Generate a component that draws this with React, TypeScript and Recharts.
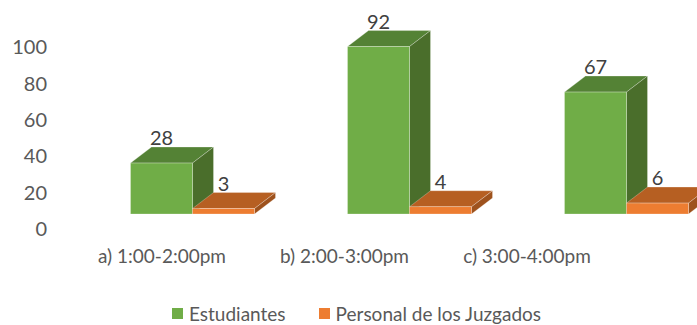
import React from "react";
import { BarChart, Bar, XAxis, YAxis, Legend } from "recharts";

// values
const categories = ["a) 1:00-2:00pm", "b) 2:00-3:00pm", "c) 3:00-4:00pm"];
const estudiantes = [28, 92, 67];
const personal = [3, 4, 6];
const yTicks = [0, 20, 40, 60, 80, 100];

const data = categories.map((name, i) => ({
  name,
  estudiantes: estudiantes[i],
  personal: personal[i],
}));

const FONT = "Lato, 'Open Sans', sans-serif";
const DX = 21; // depth offset of the fake 3D boxes
const DY = 16;
const LIFT = 15; // front face sits above the axis floor

const makeBox = (front: string, top: string, side: string) => (props: any) => {
  const { x, y, width, height, value } = props;
  const fx = x;
  const fy = y - LIFT;
  const fb = y + height - LIFT;
  const w = width;
  return (
    <g>
      <polygon
        points={`${fx},${fy} ${fx + DX},${fy - DY} ${fx + w + DX},${fy - DY} ${fx + w},${fy}`}
        fill={top}
        stroke="#ffffff"
        strokeOpacity={0.35}
        strokeWidth={0.75}
      />
      <polygon
        points={`${fx + w},${fy} ${fx + w + DX},${fy - DY} ${fx + w + DX},${fb - DY} ${fx + w},${fb}`}
        fill={side}
        stroke="#ffffff"
        strokeOpacity={0.35}
        strokeWidth={0.75}
      />
      <rect
        x={fx}
        y={fy}
        width={w}
        height={Math.max(height, 0)}
        fill={front}
        stroke="#ffffff"
        strokeOpacity={0.35}
        strokeWidth={0.75}
      />
      <text
        x={fx + w / 2}
        y={fy - DY - 2}
        textAnchor="middle"
        fontFamily={FONT}
        fontSize={20}
        fill="#404040"
      >
        {value}
      </text>
    </g>
  );
};

const GreenBox = makeBox("#70AD47", "#548235", "#4A6E2B");
const OrangeBox = makeBox("#ED7D31", "#B65F22", "#9E521D");

// category labels sit on the perspective floor, a bit left of the boxes
const CategoryTick = (props: any) => {
  const { x, y, payload } = props;
  return (
    <text
      x={162 + (x - 192) * 0.841}
      y={y + 26}
      textAnchor="middle"
      fontFamily={FONT}
      fontSize={19}
      fill="#595959"
    >
      {payload.value}
    </text>
  );
};

const legendItems = [
  { label: "Estudiantes", color: "#70AD47" },
  { label: "Personal de los Juzgados", color: "#ED7D31" },
];

const renderLegend = () => (
  <div
    style={{
      display: "flex",
      justifyContent: "flex-start",
      alignItems: "center",
      paddingLeft: 172,
      gap: 33,
      fontFamily: FONT,
      fontSize: 19,
      color: "#595959",
    }}
  >
    {legendItems.map((it) => (
      <div key={it.label} style={{ display: "flex", alignItems: "center" }}>
        <span
          style={{
            display: "inline-block",
            width: 11,
            height: 11,
            background: it.color,
            marginRight: 6,
          }}
        />
        {it.label}
      </div>
    ))}
  </div>
);

export default function App() {
  return (
    <div style={{ width: 697, height: 325, overflow: "hidden", position: "relative", background: "#fff" }}>
      <style>{`body{margin:0}`}</style>
      <BarChart
        width={740}
        height={325}
        data={data}
        margin={{ top: 47, right: 5.5, left: 0, bottom: 66 }}
        barGap={0}
        barSize={62}
      >
        <YAxis
          width={55}
          domain={[0, 100]}
          ticks={yTicks}
          axisLine={false}
          tickLine={false}
          tick={{ fill: "#595959", fontSize: 20, fontFamily: FONT }}
        />
        <XAxis
          dataKey="name"
          height={30}
          padding={{ left: 28.5, right: 0 }}
          axisLine={false}
          tickLine={false}
          tick={<CategoryTick />}
          interval={0}
        />
        <Legend
          verticalAlign="middle"
          content={renderLegend}
          wrapperStyle={{ left: 0, top: 302, width: 697 }}
        />
        <Bar dataKey="estudiantes" name="Estudiantes" shape={GreenBox} isAnimationActive={false} />
        <Bar dataKey="personal" name="Personal de los Juzgados" shape={OrangeBox} isAnimationActive={false} />
      </BarChart>
    </div>
  );
}
